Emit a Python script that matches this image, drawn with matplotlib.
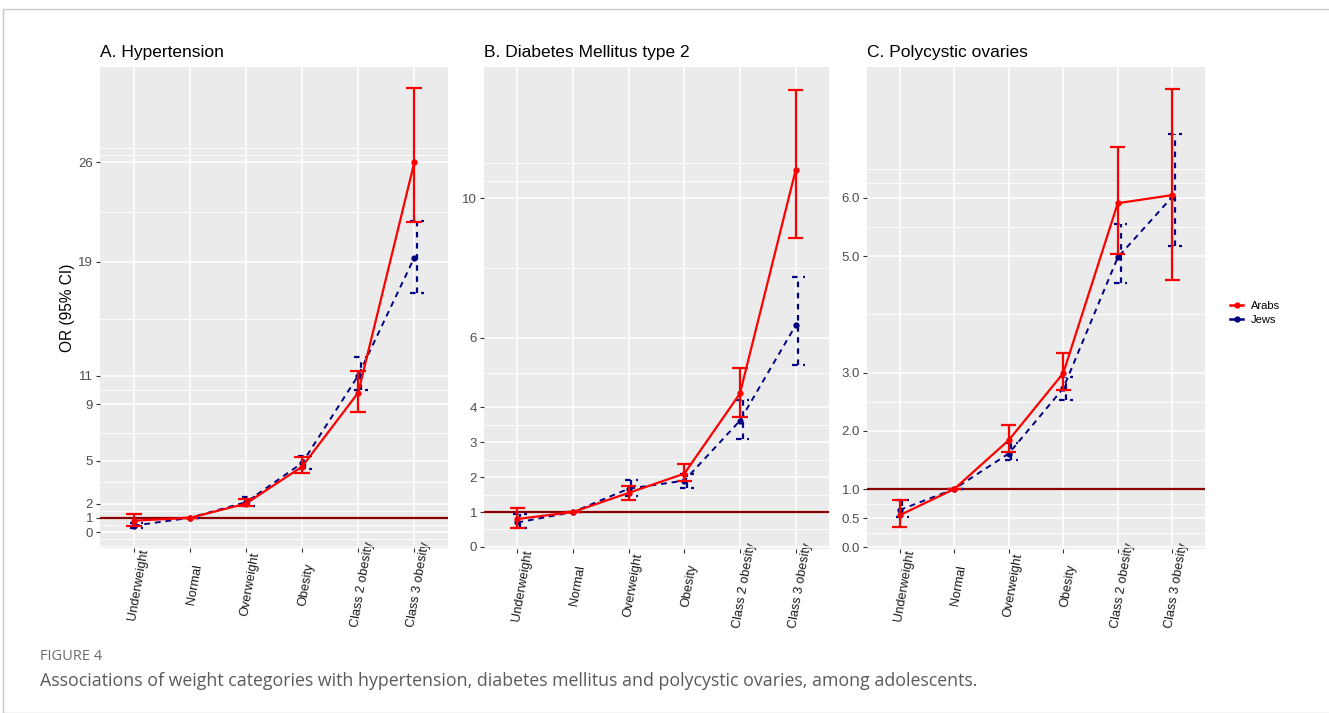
import matplotlib.pyplot as plt
from matplotlib.patches import Rectangle
from matplotlib.transforms import ScaledTranslation

plt.rcParams['font.family'] = ['Liberation Sans', 'DejaVu Sans']

categories = ['Underweight', 'Normal', 'Overweight', 'Obesity', 'Class 2 obesity', 'Class 3 obesity']

# A. Hypertension
htn_arabs = [0.8, 1.0, 2.0, 4.6, 9.8, 26.0]
htn_arabs_lo = [0.45, 1.0, 1.8, 4.15, 8.45, 21.8]
htn_arabs_hi = [1.3, 1.0, 2.3, 5.3, 11.3, 31.2]
htn_jews = [0.45, 1.0, 2.1, 4.85, 11.0, 19.3]
htn_jews_lo = [0.3, 1.0, 1.85, 4.4, 10.0, 16.8]
htn_jews_hi = [0.65, 1.0, 2.45, 5.35, 12.3, 21.9]

# B. Diabetes Mellitus type 2
dm_arabs = [0.8, 1.0, 1.55, 2.1, 4.4, 10.8]
dm_arabs_lo = [0.55, 1.0, 1.35, 1.9, 3.73, 8.85]
dm_arabs_hi = [1.12, 1.0, 1.75, 2.38, 5.12, 13.1]
dm_jews = [0.7, 1.0, 1.67, 1.9, 3.62, 6.35]
dm_jews_lo = [0.55, 1.0, 1.47, 1.7, 3.1, 5.23]
dm_jews_hi = [0.95, 1.0, 1.92, 2.1, 4.22, 7.73]

# C. Polycystic ovaries
pco_arabs = [0.55, 1.0, 1.84, 2.99, 5.91, 6.05]
pco_arabs_lo = [0.34, 1.0, 1.63, 2.7, 5.03, 4.59]
pco_arabs_hi = [0.82, 1.0, 2.1, 3.33, 6.87, 7.87]
pco_jews = [0.64, 1.0, 1.61, 2.73, 4.98, 6.02]
pco_jews_lo = [0.52, 1.0, 1.5, 2.53, 4.54, 5.17]
pco_jews_hi = [0.81, 1.0, 1.79, 2.92, 5.55, 7.1]

htn_breaks = [0, 1, 2, 5, 9, 11, 19, 26]
htn_minor = [-1, -0.5, 0.5, 1.5, 3.5, 7, 10, 15, 22.5, 26.5, 27]
dm_breaks = [0, 1, 2, 3, 4, 6, 10]
dm_minor = [0.5, 1.5, 2.5, 3.5, 5, 8, 10.5, 11]
pco_breaks = [0.0, 0.5, 1.0, 2.0, 3.0, 5.0, 6.0]
pco_minor = [0.25, 0.75, 1.5, 2.5, 4.0, 5.5, 6.25, 6.5]

W, H = 1329, 713
fig = plt.figure(figsize=(W / 100, H / 100), dpi=100)
fig.patches.append(Rectangle((3 / W, 0), 1, 1 - 9 / H, transform=fig.transFigure,
                             fill=False, edgecolor='#c8c8c8', linewidth=1))

panels = [
    ('A. Hypertension', (100, 548, 348, 481), (-1.12, 32.7), htn_breaks, [str(b) for b in htn_breaks], htn_minor,
     htn_arabs, htn_arabs_lo, htn_arabs_hi, htn_jews, htn_jews_lo, htn_jews_hi),
    ('B. Diabetes Mellitus type 2', (484, 549, 345, 482), (-0.06, 13.76), dm_breaks, [str(b) for b in dm_breaks], dm_minor,
     dm_arabs, dm_arabs_lo, dm_arabs_hi, dm_jews, dm_jews_lo, dm_jews_hi),
    ('C. Polycystic ovaries', (867, 549, 338, 482), (-0.03, 8.25), pco_breaks, ['%.1f' % b for b in pco_breaks], pco_minor,
     pco_arabs, pco_arabs_lo, pco_arabs_hi, pco_jews, pco_jews_lo, pco_jews_hi),
]

x = list(range(1, len(categories) + 1))
red = '#ff0000'
navy = '#000080'
axes = []

for i, (title, (px, pb, pw, ph), ylim, breaks, labels, minor,
        ar, ar_lo, ar_hi, jw, jw_lo, jw_hi) in enumerate(panels):
    ax = fig.add_axes([px / W, 1 - pb / H, pw / W, ph / H])
    axes.append(ax)
    ax.set_facecolor('#ebebeb')
    for s in ax.spines.values():
        s.set_visible(False)
    ax.set_xlim(0.4, 6.6)
    ax.set_ylim(*ylim)
    ax.set_yticks(breaks)
    ax.set_yticklabels(labels)
    ax.set_yticks(minor, minor=True)
    ax.set_xticks(x)
    ax.tick_params(axis='both', which='major', length=3, width=0.8, color='#333333',
                   labelsize=9.5, labelcolor='#4d4d4d', pad=2)
    ax.tick_params(axis='x', labelcolor='#1a1a1a', labelsize=9.2, pad=23)
    ax.tick_params(axis='y', which='minor', length=0)
    ax.set_xticklabels(categories, rotation=80, ha='center', va='center')
    ax.grid(True, which='major', color='white', linewidth=1.1)
    ax.grid(True, which='minor', axis='y', color='white', linewidth=0.6)
    ax.set_axisbelow(True)
    ax.set_title(title, loc='left', fontsize=12.5, pad=7, color='black')

    ax.axhline(1, color='#8b0000', linewidth=1.6, zorder=2)

    xj = [v + 0.05 for v in x]
    # Jews: dashed
    ax.plot(x, jw, color=navy, linestyle=(0, (3, 2.5)), linewidth=1.4, marker='o', markersize=3.5, zorder=3,
            label='Jews')
    ax.vlines(xj, jw_lo, jw_hi, color=navy, linestyle=(0, (2.5, 2.5)), linewidth=1.6, zorder=3)
    ax.hlines(jw_lo, [v - 0.12 for v in xj], [v + 0.12 for v in xj], color=navy,
              linestyle=(0, (2.5, 2.5)), linewidth=1.6, zorder=3)
    ax.hlines(jw_hi, [v - 0.12 for v in xj], [v + 0.12 for v in xj], color=navy,
              linestyle=(0, (2.5, 2.5)), linewidth=1.6, zorder=3)
    # Arabs: solid
    ax.plot(x, ar, color=red, linewidth=1.6, marker='o', markersize=3.5, zorder=4, label='Arabs')
    ax.vlines(x, ar_lo, ar_hi, color=red, linewidth=1.6, zorder=4)
    ax.hlines(ar_lo, [v - 0.14 for v in x], [v + 0.14 for v in x], color=red, linewidth=1.6, zorder=4)
    ax.hlines(ar_hi, [v - 0.14 for v in x], [v + 0.14 for v in x], color=red, linewidth=1.6, zorder=4)

    if i == 0:
        ax.set_ylabel('OR (95% CI)', fontsize=11.2, color='black', labelpad=2)
    if i == 2:
        h, l = ax.get_legend_handles_labels()
        leg = fig.legend([h[1], h[0]], [l[1], l[0]], loc='center left',
                         bbox_to_anchor=(1220 / W, 1 - 313 / H), frameon=False, fontsize=8,
                         handlelength=1.2, handletextpad=0.7, labelspacing=0.35)
        for ln in leg.get_lines():
            ln.set_linestyle('-')
            ln.set_linewidth(1.8)

# nudge category labels a few pixels right, as in the original
shift = ScaledTranslation(4.5 / 100, 0, fig.dpi_scale_trans)
for ax in axes:
    for lbl in ax.get_xticklabels():
        lbl.set_transform(lbl.get_transform() + shift)

fig.text(40 / W, 1 - 657 / H, 'FIGURE 4', fontsize=10.5, color='#6b6b6b', va='center',
         family=['Open Sans', 'DejaVu Sans'])
fig.text(40 / W, 1 - 681 / H,
         'Associations of weight categories with hypertension, diabetes mellitus and polycystic ovaries, among adolescents.',
         fontsize=12.8, color='#5a5a5a', va='center', family=['Open Sans', 'DejaVu Sans'])

fig.savefig('out.png', dpi=100)
